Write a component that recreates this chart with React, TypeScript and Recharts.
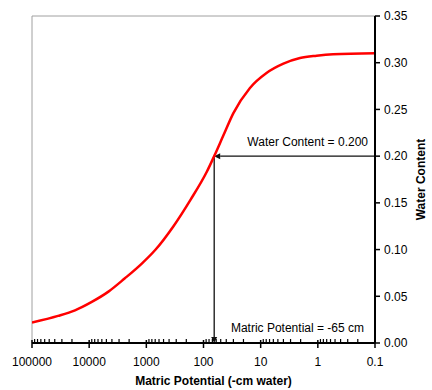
import React from 'react';
import { LineChart, Line, XAxis, YAxis, ReferenceLine, ReferenceDot } from 'recharts';

// matric potential (-cm water) and water content
const potential = [100000, 35000, 17700, 9000, 4600, 2400, 1200, 700, 340, 170, 88, 65, 45, 30, 15.4, 7.9, 4, 2.05, 1.05, 0.54, 0.1];
const waterContent = [0.022, 0.029, 0.035, 0.044, 0.055, 0.069, 0.085, 0.0995, 0.1245, 0.153, 0.183, 0.2, 0.222, 0.246, 0.273, 0.289, 0.299, 0.305, 0.3075, 0.309, 0.31];

const majorTicks = [100000, 10000, 1000, 100, 10, 1, 0.1];
const majorLabels = ['100000', '10000', '1000', '100', '10', '1', '0.1'];
const decades = [10000, 1000, 100, 10, 1, 0.1];
const minorSteps = [2, 3, 4, 5, 6, 7, 8, 9];
const yTicks = [0, 0.05, 0.1, 0.15, 0.2, 0.25, 0.3, 0.35];

const targetPotential = 65;
const targetWater = 0.2;

const data = potential.map((p, i) => ({ p, w: waterContent[i] }));
const minorTicks = decades.flatMap(d => minorSteps.map(k => d * k));
const allTicks = [...majorTicks, ...minorTicks];

const XTick = (props: any) => {
  const { x, y, payload } = props;
  const idx = majorTicks.indexOf(payload.value);
  if (idx >= 0) {
    return (
      <g>
        <line x1={x} y1={y - 3} x2={x} y2={y + 5} stroke="#000" strokeWidth={1.5} />
        <text x={x} y={y + 23} textAnchor="middle" fontSize={12} fill="#000">{majorLabels[idx]}</text>
      </g>
    );
  }
  return <line x1={x} y1={y} x2={x} y2={y - 4} stroke="#000" strokeWidth={1.2} />;
};

const XLabel = (props: any) => {
  const { viewBox } = props;
  return (
    <text x={viewBox.x + viewBox.width / 2 + 10} y={viewBox.y + 42} textAnchor="middle" fontSize={12} fontWeight="bold" fill="#000">
      Matric Potential (-cm water)
    </text>
  );
};

const YLabel = (props: any) => {
  const { viewBox } = props;
  const cx = viewBox.x + 46;
  const cy = viewBox.y + viewBox.height / 2;
  return (
    <text x={cx} y={cy} transform={`rotate(-90 ${cx} ${cy})`} textAnchor="middle" dominantBaseline="central" fontSize={12} fontWeight="bold" fill="#000">
      Water Content
    </text>
  );
};

const Arrow = (props: any) => {
  const { x1, y1, x2, y2 } = props;
  const dx = x2 - x1;
  const dy = y2 - y1;
  const len = Math.hypot(dx, dy) || 1;
  const ux = dx / len;
  const uy = dy / len;
  const hl = 6;
  const hw = 3;
  const bx = x2 - ux * hl;
  const by = y2 - uy * hl;
  const pts = `${x2},${y2} ${bx - uy * hw},${by + ux * hw} ${bx + uy * hw},${by - ux * hw}`;
  return (
    <g>
      <line x1={x1} y1={y1} x2={bx} y2={by} stroke="#111" strokeWidth={1.3} />
      <polygon points={pts} fill="#111" />
    </g>
  );
};

const NoteText = (text: string, dx: number, dy: number) => (props: any) => (
  <text x={props.cx + dx} y={props.cy + dy} textAnchor="end" fontSize={12} fill="#000">{text}</text>
);

export default function App() {
  return (
    <div style={{ position: 'absolute', left: 0, top: 0, fontFamily: '"Liberation Sans", Arial, sans-serif' }}>
      <LineChart width={432} height={390} data={data} margin={{ top: 16, right: 0, bottom: 0, left: 32 }}>
        <XAxis
          dataKey="p"
          type="number"
          scale="log"
          domain={[0.1, 100000]}
          reversed
          allowDataOverflow
          ticks={allTicks}
          interval={0}
          tickSize={0}
          tickMargin={0}
          tickLine={false}
          axisLine={{ stroke: '#000', strokeWidth: 2 }}
          tick={<XTick />}
          height={47}
          label={{ content: XLabel }}
        />
        <YAxis
          orientation="right"
          type="number"
          domain={[0, 0.35]}
          ticks={yTicks}
          tickFormatter={(v: number) => v.toFixed(2)}
          axisLine={{ stroke: '#000', strokeWidth: 2 }}
          tickLine={{ stroke: '#000', strokeWidth: 1.5 }}
          tickSize={5}
          tickMargin={4}
          tick={{ fill: '#000', fontSize: 12 }}
          width={57}
          label={{ content: YLabel }}
        />
        <ReferenceLine y={0.35} stroke="#a0a0a0" strokeWidth={1} />
        <ReferenceLine x={100000} stroke="#a0a0a0" strokeWidth={1} />
        <ReferenceLine
          segment={[{ x: 0.1, y: targetWater }, { x: targetPotential, y: targetWater }]}
          shape={Arrow}
        />
        <ReferenceLine
          segment={[{ x: targetPotential, y: targetWater }, { x: targetPotential, y: 0 }]}
          shape={Arrow}
        />
        <ReferenceDot x={0.1} y={targetWater} r={0} shape={NoteText('Water Content = 0.200', -7, -10)} />
        <ReferenceDot x={0.1} y={0} r={0} shape={NoteText('Matric Potential = -65 cm', -11, -11)} />
        <Line
          dataKey="w"
          type="monotone"
          stroke="#ff0000"
          strokeWidth={2.5}
          dot={false}
          isAnimationActive={false}
        />
      </LineChart>
    </div>
  );
}
